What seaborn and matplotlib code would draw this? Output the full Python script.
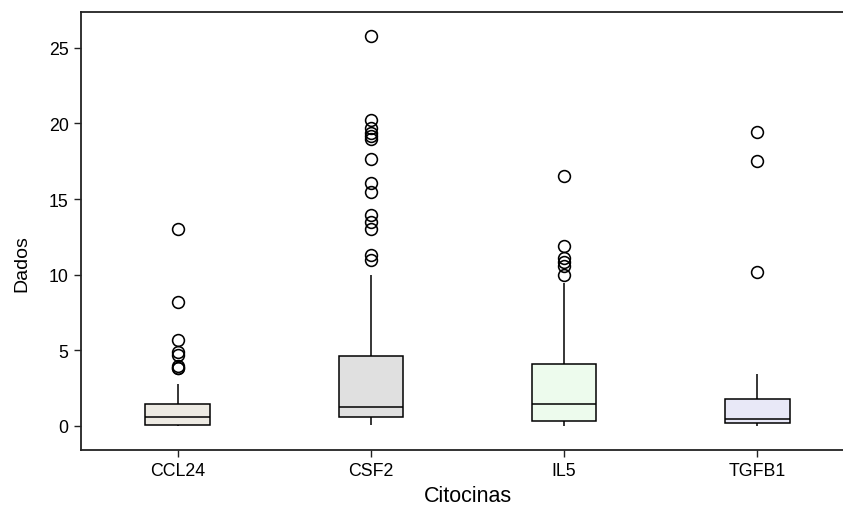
import matplotlib
matplotlib.use("Agg")
import matplotlib.pyplot as plt
import numpy as np
import pandas as pd
import seaborn as sns

# Box summaries per cytokine
citocinas = ["CCL24", "CSF2", "IL5", "TGFB1"]
minimo = [0.0, 0.04, 0.0, 0.0]
q1 = [0.09, 0.57, 0.35, 0.17]
mediana = [0.57, 1.23, 1.43, 0.48]
q3 = [1.43, 4.63, 4.12, 1.76]
maximo = [2.8, 9.95, 9.47, 3.46]
outliers_ccl24 = [3.8, 3.85, 3.95, 4.7, 4.9, 5.7, 8.2, 13.0]
outliers_csf2 = [10.94, 11.3, 13.05, 13.5, 13.93, 15.49, 16.04, 17.65,
                 19.0, 19.2, 19.4, 19.7, 20.2, 25.8]
outliers_il5 = [10.0, 10.6, 10.84, 11.1, 11.9, 16.5]
outliers_tgfb1 = [10.18, 17.49, 19.43]
outliers = [outliers_ccl24, outliers_csf2, outliers_il5, outliers_tgfb1]
cores = ["#EFEBE1", "#E0E0E0", "#EBFDEB", "#E5E5FA"]


def amostra(lo, a, m, b, hi, extra):
    """Sorted sample of length 4k+1 whose quartiles are exactly a, m, b."""
    k = len(extra) + 1
    return [lo] + [a] * k + [m] * k + [b] * k + [hi] * (k - len(extra)) + list(extra)


linhas = []
for i, nome in enumerate(citocinas):
    vals = amostra(minimo[i], q1[i], mediana[i], q3[i], maximo[i], outliers[i])
    linhas += [(nome, v) for v in vals]
df = pd.DataFrame(linhas, columns=["Citocinas", "Dados"])

sns.set_style("ticks")
plt.rcParams["font.family"] = ["Liberation Sans", "DejaVu Sans"]
plt.rcParams["text.color"] = "black"
plt.rcParams["axes.labelcolor"] = "black"
plt.rcParams["xtick.color"] = "black"
plt.rcParams["ytick.color"] = "black"

fig = plt.figure(figsize=(8.43, 5.10), dpi=100)
ax = fig.add_axes([81 / 843, 1 - 450.7 / 510, (854 - 81) / 843, (450.7 - 12.5) / 510])

sns.boxplot(
    data=df, x="Citocinas", y="Dados", hue="Citocinas", order=citocinas,
    hue_order=citocinas, palette=cores, width=0.335, linewidth=1.1,
    linecolor="black", whis=1.5, showcaps=False, legend=False, ax=ax,
    flierprops=dict(marker="o", markerfacecolor="none", markeredgecolor="black",
                    markersize=8.5, markeredgewidth=1.15),
)

ax.set_xlim(-0.5, 3.5)
ax.set_ylim(-1.57, 27.4)
ax.set_yticks([0, 5, 10, 15, 20, 25])
ax.set_xlabel("Citocinas", fontsize=15.5)
ax.set_ylabel("Dados", fontsize=14)
ax.xaxis.set_label_coords(0.5, -0.080)
ax.yaxis.set_label_coords(-0.066, 0.426)
ax.tick_params(axis="both", labelsize=12.8, length=5, width=1.0, color="#222222",
               direction="out", pad=4)
for s in ["left", "top", "bottom", "right"]:
    ax.spines[s].set_visible(True)
    ax.spines[s].set_color("#222222")
    ax.spines[s].set_linewidth(1.3)

fig.savefig("out.png", dpi=100)
